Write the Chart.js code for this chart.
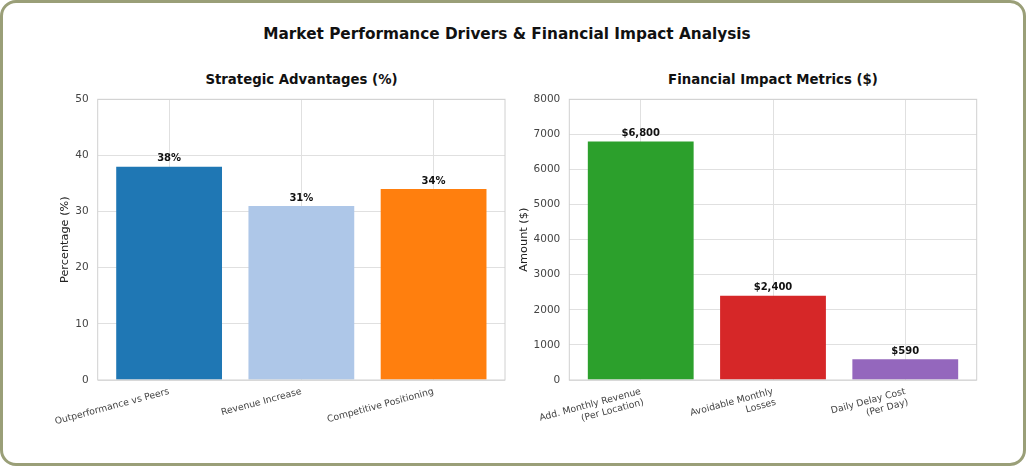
<!DOCTYPE html>
<html>
<head>
<meta charset="utf-8">
<script src="https://cdn.jsdelivr.net/npm/chart.js@4.4.0/dist/chart.umd.min.js"></script>
<style>
  html, body { margin: 0; padding: 0; background: #fff; }
  body { width: 1026px; height: 466px; position: relative; overflow: hidden; font-family: "DejaVu Sans", sans-serif; }
  .card { position: absolute; left: 0; top: 0; width: 1020px; height: 460px; border: 3px solid #9a9f78; border-radius: 16px; }
  .title { position: absolute; left: 0; width: 1014px; top: 25px; text-align: center; font-weight: bold; font-size: 15.3px; color: #111; }
  .sub { position: absolute; top: 72px; text-align: center; font-weight: bold; font-size: 13.3px; color: #111; }
  canvas { position: absolute; top: 90px; }
</style>
</head>
<body>
<div class="card"></div>
<div class="title">Market Performance Drivers &amp; Financial Impact Analysis</div>
<div class="sub" style="left:98px;width:407px;">Strategic Advantages (%)</div>
<div class="sub" style="left:569px;width:408px;">Financial Impact Metrics ($)</div>
<canvas id="left" width="515" height="376" style="left:0px;"></canvas>
<canvas id="right" width="511" height="376" style="left:515px;"></canvas>
<script>
const advCategories = ['Outperformance vs Peers', 'Revenue Increase', 'Competitive Positioning'];
const advValues = [38, 31, 34];
const advColors = ['#1f77b4', '#aec7e8', '#ff7f0e'];
const advTicks = [0, 10, 20, 30, 40, 50];

const finCategories = [['Add. Monthly Revenue', '(Per Location)'], ['Avoidable Monthly', 'Losses'], ['Daily Delay Cost', '(Per Day)']];
const finValues = [6800, 2400, 590];
const finColors = ['#2ca02c', '#d62728', '#9467bd'];
const finTicks = [0, 1000, 2000, 3000, 4000, 5000, 6000, 7000, 8000];

const gridColor = '#e0e0e0';
const tickColor = '#444';

// frame round the plot area + value labels above bars
const framePlugin = {
  id: 'frame',
  afterDatasetsDraw(chart, args, opts) {
    const { ctx, chartArea: a } = chart;
    ctx.save();
    ctx.strokeStyle = '#d0d0d0';
    ctx.lineWidth = 1;
    ctx.strokeRect(a.left, a.top, a.right - a.left, a.bottom - a.top);
    const meta = chart.getDatasetMeta(0);
    ctx.fillStyle = '#111';
    ctx.font = 'bold 10px "DejaVu Sans"';
    ctx.textAlign = 'center';
    ctx.textBaseline = 'bottom';
    meta.data.forEach((bar, i) => {
      const v = chart.data.datasets[0].data[i].y;
      ctx.fillText(opts.fmt(v), bar.x, bar.y - 3);
    });
    ctx.restore();
  }
};

function makeChart(id, cats, values, colors, ticks, yTitle, fmt, pad, yWidth, titlePad) {
  return new Chart(document.getElementById(id), {
    type: 'bar',
    data: {
      datasets: [{
        data: values.map((v, i) => ({ x: i, y: v })),
        backgroundColor: colors,
        borderWidth: 0,
        barPercentage: 0.8,
        categoryPercentage: 1
      }]
    },
    options: {
      responsive: false,
      animation: false,
      layout: { padding: pad },
      plugins: { legend: { display: false }, tooltip: { enabled: false }, frame: { fmt } },
      scales: {
        x: {
          type: 'linear',
          min: -0.54,
          max: 2.54,
          offset: false,
          afterBuildTicks: s => { s.ticks = cats.map((c, i) => ({ value: i })); },
          afterFit: s => { s.height = 86; s.paddingLeft = 0; s.paddingRight = 0; },
          grid: { color: gridColor, drawTicks: false, offset: false },
          border: { display: false },
          ticks: {
            autoSkip: false,
            minRotation: 15,
            maxRotation: 15,
            padding: 6,
            color: tickColor,
            font: { family: 'DejaVu Sans', size: 9.3 },
            callback: v => cats[v]
          }
        },
        y: {
          min: ticks[0],
          max: ticks[ticks.length - 1],
          afterBuildTicks: s => { s.ticks = ticks.map(t => ({ value: t })); },
          afterFit: s => { s.width = yWidth; s.paddingTop = 0; s.paddingBottom = 0; },
          grid: { color: gridColor, drawTicks: false },
          border: { display: false },
          title: { display: true, text: yTitle, color: '#222', font: { family: 'DejaVu Sans', size: 11.3 }, padding: { top: titlePad, bottom: 0 } },
          ticks: { padding: 9, color: tickColor, font: { family: 'DejaVu Sans', size: 10.5 }, callback: v => String(v) }
        }
      }
    },
    plugins: [framePlugin]
  });
}

makeChart('left', advCategories, advValues, advColors, advTicks, 'Percentage (%)',
  v => v + '%', { left: 52, right: 10, top: 9.3, bottom: 0 }, 45.7, 6);
makeChart('right', finCategories, finValues, finColors, finTicks, 'Amount ($)',
  v => '$' + v.toLocaleString('en-US'), { left: 0, right: 49.3, top: 9.3, bottom: 0 }, 54.3, 2);
</script>
</body>
</html>
